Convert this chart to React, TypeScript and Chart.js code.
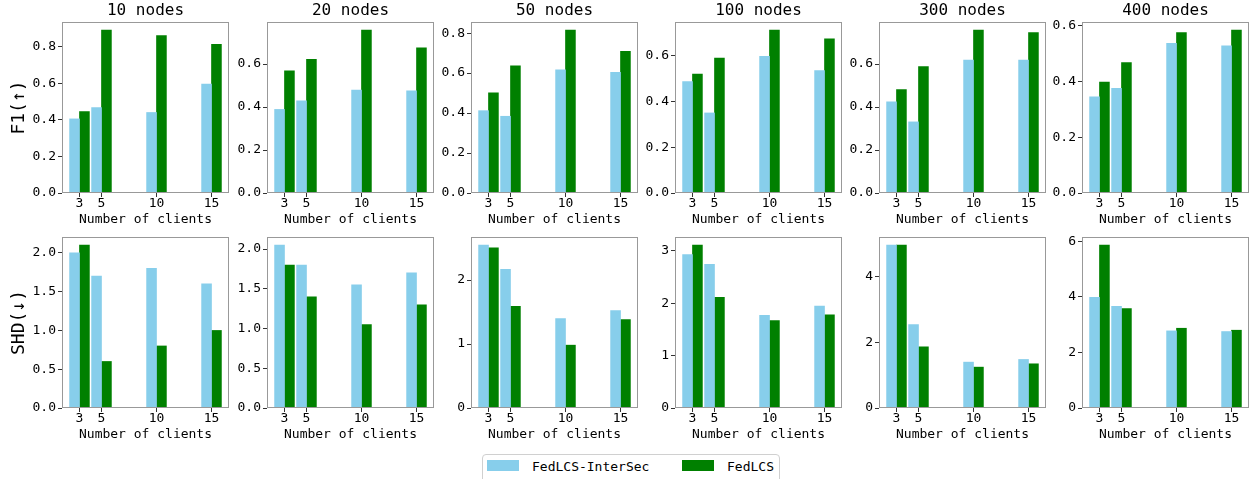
import React, { useEffect, useRef } from 'react';
import { Chart, registerables } from 'chart.js';

Chart.register(...registerables);

// ---------- data ----------
const CLIENTS = [3, 5, 10, 15];
const PANEL_TITLES = ['10 nodes', '20 nodes', '50 nodes', '100 nodes', '300 nodes', '400 nodes'];
const SERIES_LABELS = ['FedLCS-InterSec', 'FedLCS'];
const ROW_LABELS = ['F1(↑)', 'SHD(↓)'];

// one row per panel (10, 20, 50, 100, 300, 400 nodes), values for clients 3, 5, 10, 15
const F1_INTERSEC = [
  [0.405, 0.467, 0.44, 0.595],
  [0.389, 0.429, 0.479, 0.475],
  [0.412, 0.384, 0.617, 0.604],
  [0.487, 0.35, 0.597, 0.535],
  [0.424, 0.331, 0.619, 0.619],
  [0.345, 0.375, 0.537, 0.528],
];
const F1_FEDLCS = [
  [0.445, 0.89, 0.86, 0.813],
  [0.569, 0.622, 0.758, 0.676],
  [0.501, 0.637, 0.815, 0.709],
  [0.52, 0.59, 0.712, 0.674],
  [0.481, 0.588, 0.758, 0.747],
  [0.398, 0.468, 0.575, 0.584],
];
const SHD_INTERSEC = [
  [2.0, 1.7, 1.8, 1.6],
  [2.05, 1.8, 1.55, 1.7],
  [2.545, 2.166, 1.397, 1.522],
  [2.93, 2.74, 1.77, 1.947],
  [4.949, 2.535, 1.394, 1.475],
  [3.98, 3.657, 2.773, 2.749],
];
const SHD_FEDLCS = [
  [2.1, 0.6, 0.8, 1.0],
  [1.8, 1.4, 1.05, 1.3],
  [2.504, 1.59, 0.982, 1.382],
  [3.108, 2.112, 1.668, 1.776],
  [4.949, 1.859, 1.242, 1.343],
  [5.856, 3.574, 2.868, 2.797],
];
const F1_TICK_STEPS = [0.2, 0.2, 0.2, 0.2, 0.2, 0.2];
const SHD_TICK_STEPS = [0.5, 0.5, 1, 1, 2, 2];

// ---------- style / layout ----------
const COLORS = ['#87CEEB', '#008000'];
const BAR_W = 0.9;
const MONO = "'DejaVu Sans Mono', 'Liberation Mono', monospace";
const PLOT_LEFTS = [62, 267, 471, 675, 879, 1082];
const PLOT_TOPS = [22, 237];
const PW = 167;
const PH = 171;
const TITLE_H = 22;
const XH = 36;

const framePlugin = {
  id: 'frame',
  afterDatasetsDraw(chart: any) {
    const { ctx, chartArea: a } = chart;
    ctx.save();
    ctx.strokeStyle = '#999999';
    ctx.lineWidth = 1;
    ctx.strokeRect(Math.round(a.left) + 0.5, Math.round(a.top) + 0.5, Math.round(a.width) - 1, Math.round(a.height) - 1);
    ctx.restore();
  },
};

const titlePlugin = {
  id: 'panelTitle',
  afterDraw(chart: any, _args: any, opts: any) {
    if (!opts || !opts.text) return;
    const { ctx, chartArea: a } = chart;
    ctx.save();
    ctx.font = `16px ${MONO}`;
    ctx.fillStyle = '#000';
    ctx.textAlign = 'center';
    ctx.textBaseline = 'middle';
    ctx.fillText(opts.text, (a.left + a.right) / 2, a.top - 11);
    ctx.restore();
  },
};

function Panel({ row, col }: { row: number; col: number }) {
  const ref = useRef<HTMLCanvasElement | null>(null);
  const yw = col === 0 ? 62 : 44;
  const width = yw + PW + 2;
  const height = TITLE_H + PH + XH;
  const left = PLOT_LEFTS[col] - yw;
  const top = PLOT_TOPS[row] - TITLE_H;

  useEffect(() => {
    if (!ref.current) return;
    const a = row === 0 ? F1_INTERSEC[col] : SHD_INTERSEC[col];
    const b = row === 0 ? F1_FEDLCS[col] : SHD_FEDLCS[col];
    const step = row === 0 ? F1_TICK_STEPS[col] : SHD_TICK_STEPS[col];
    const yMax = Math.max(...a, ...b) * 1.05;
    const lo = Math.min(...CLIENTS) - BAR_W;
    const hi = Math.max(...CLIENTS) + BAR_W;
    const pad = (hi - lo) * 0.05;

    const chart = new Chart(ref.current, {
      type: 'bar',
      data: {
        datasets: [
          {
            label: SERIES_LABELS[0],
            data: CLIENTS.map((c, i) => ({ x: c - BAR_W / 2, y: a[i] })),
            backgroundColor: COLORS[0],
            borderWidth: 0,
            grouped: false,
            categoryPercentage: 1,
            barPercentage: 1,
          },
          {
            label: SERIES_LABELS[1],
            data: CLIENTS.map((c, i) => ({ x: c + BAR_W / 2, y: b[i] })),
            backgroundColor: COLORS[1],
            borderWidth: 0,
            grouped: false,
            categoryPercentage: 1,
            barPercentage: 1,
          },
        ],
      },
      options: {
        responsive: false,
        animation: false,
        devicePixelRatio: 1,
        layout: { padding: { top: TITLE_H, right: 2, left: 0, bottom: 0 } },
        plugins: {
          legend: { display: false },
          tooltip: { enabled: false },
          panelTitle: { text: row === 0 ? PANEL_TITLES[col] : '' },
        } as any,
        scales: {
          x: {
            type: 'linear',
            min: lo - pad,
            max: hi + pad,
            offset: false,
            grid: { display: true, drawOnChartArea: false, drawTicks: true, tickLength: 4, color: '#333', offset: false },
            border: { display: false },
            ticks: {
              color: '#000',
              padding: 0,
              font: { family: MONO, size: 13, lineHeight: 1 },
              maxRotation: 0,
              autoSkip: false,
              callback: (v: any) => String(v),
            },
            title: {
              display: true,
              text: 'Number of clients',
              color: '#000',
              font: { family: MONO, size: 13, lineHeight: 1.2 },
              padding: { top: 0, bottom: 2 },
            },
            afterBuildTicks: (s: any) => {
              s.ticks = CLIENTS.map((c) => ({ value: c }));
            },
            afterFit: (s: any) => {
              s.height = XH;
              s.paddingLeft = 0;
              s.paddingRight = 0;
            },
          } as any,
          y: {
            type: 'linear',
            min: 0,
            max: yMax,
            grid: { display: true, drawOnChartArea: false, drawTicks: true, tickLength: 4, color: '#333' },
            border: { display: false },
            ticks: {
              color: '#000',
              padding: 2,
              font: { family: MONO, size: 13, lineHeight: 1 },
              callback: (v: any) => (step < 1 ? Number(v).toFixed(1) : String(Math.round(Number(v)))),
            },
            title: {
              display: col === 0,
              text: ROW_LABELS[row],
              color: '#000',
              font: { family: MONO, size: 18, lineHeight: 1.2 },
              padding: { top: 9, bottom: 0 },
            },
            afterBuildTicks: (s: any) => {
              const t: any[] = [];
              for (let k = 0; k * step <= yMax + 1e-9; k++) t.push({ value: +(k * step).toFixed(6) });
              s.ticks = t;
            },
            afterFit: (s: any) => {
              s.width = yw;
              s.paddingTop = 0;
              s.paddingBottom = 0;
            },
          } as any,
        },
      },
      plugins: [framePlugin, titlePlugin],
    });
    return () => chart.destroy();
  }, [row, col]);

  return (
    <canvas
      ref={ref}
      width={width}
      height={height}
      style={{ position: 'absolute', left, top, width, height }}
    />
  );
}

export default function App() {
  const panels: React.ReactNode[] = [];
  for (let r = 0; r < 2; r++) {
    for (let c = 0; c < 6; c++) panels.push(<Panel key={`${r}-${c}`} row={r} col={c} />);
  }
  const legendText: React.CSSProperties = {
    position: 'absolute',
    top: 459,
    fontFamily: MONO,
    fontSize: 13,
    lineHeight: '15px',
    color: '#000',
  };
  return (
    <div style={{ position: 'fixed', left: 0, top: 0, width: 1253, height: 479, background: '#fff', overflow: 'hidden' }}>
      {panels}
      <div
        style={{
          position: 'absolute',
          left: 482,
          top: 454,
          width: 298,
          height: 34,
          border: '1px solid #d0d0d0',
          borderRadius: 4,
          background: '#fff',
          boxSizing: 'border-box',
        }}
      />
      <div style={{ position: 'absolute', left: 487, top: 460, width: 32, height: 11, background: COLORS[0] }} />
      <div style={{ ...legendText, left: 532 }}>{SERIES_LABELS[0]}</div>
      <div style={{ position: 'absolute', left: 682, top: 460, width: 32, height: 11, background: COLORS[1] }} />
      <div style={{ ...legendText, left: 727 }}>{SERIES_LABELS[1]}</div>
    </div>
  );
}
